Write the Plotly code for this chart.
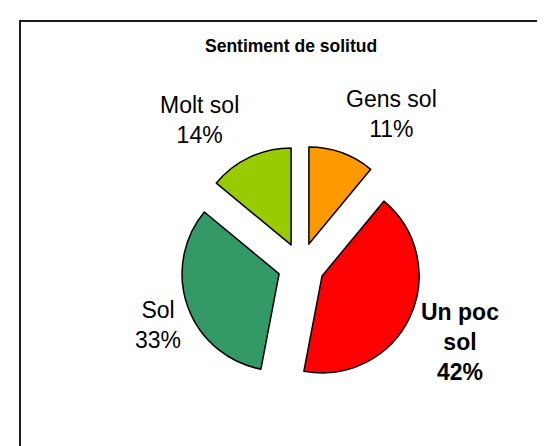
import plotly.graph_objects as go

categories = ["Gens sol", "Un poc sol", "Sol", "Molt sol"]
values = [11, 42, 33, 14]
colors = ["#FF9900", "#FF0000", "#339966", "#99CC00"]
title_text = "Sentiment de solitud"

W, H = 545, 446
FONT = "Liberation Sans, Arial, sans-serif"

fig = go.Figure()
fig.add_trace(go.Pie(
    labels=categories,
    values=values,
    sort=False,
    direction="clockwise",
    rotation=0,
    pull=[0.24] * len(values),
    marker=dict(colors=colors, line=dict(color="black", width=1.5)),
    textinfo="none",
    hoverinfo="label+percent",
    showlegend=False,
    domain=dict(x=[172.7 / W, 413.3 / W], y=[1 - 378.3 / H, 1 - 137.7 / H]),
))

total = sum(values)
# label placement (px, center of text block) and styling
label_pos = {
    "Gens sol": (383, 106),
    "Un poc sol": (452, 334),
    "Sol": (150, 317),
    "Molt sol": (191, 112),
}
label_lines = {"Un poc sol": "Un poc<br>sol"}
bold = {"Un poc sol"}

annotations = []
for cat, v in zip(categories, values):
    pct = f"{v / total * 100:.0f}%"
    txt = f"{label_lines.get(cat, cat)}<br>{pct}"
    if cat in bold:
        txt = f"<b>{txt}</b>"
    x, y = label_pos[cat]
    annotations.append(dict(
        x=x / W, y=1 - y / H, xref="paper", yref="paper",
        text=txt, showarrow=False, xanchor="center", yanchor="middle",
        align="center", font=dict(family=FONT, size=23, color="black"),
    ))

annotations.append(dict(
    x=282.5 / W, y=1 - 38 / H, xref="paper", yref="paper",
    text=f"<b>{title_text}</b>", showarrow=False, xanchor="center", yanchor="middle",
    font=dict(family=FONT, size=17.5, color="black"),
))

fig.update_layout(
    width=W, height=H,
    margin=dict(l=0, r=0, t=0, b=0),
    paper_bgcolor="white",
    plot_bgcolor="white",
    annotations=annotations,
    shapes=[dict(
        type="rect", xref="paper", yref="paper",
        x0=12 / W, x1=1.05, y0=-0.05, y1=1 - 13 / H,
        line=dict(color="#1a1a1a", width=2),
    )],
)

fig.write_html("out.html")
